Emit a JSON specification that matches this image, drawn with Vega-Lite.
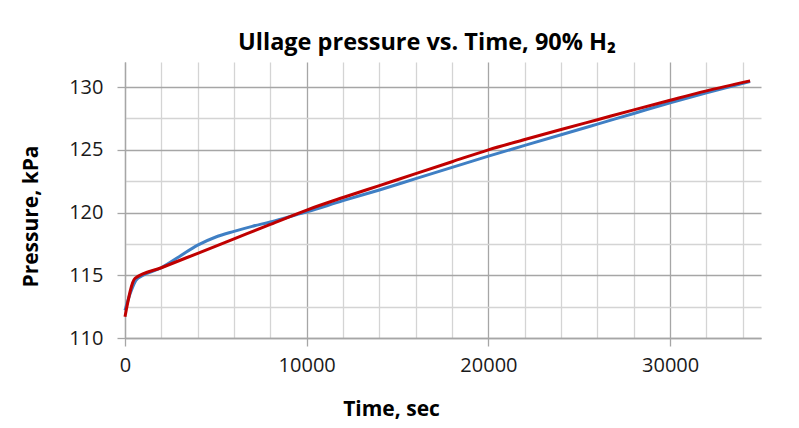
{
  "$schema": "https://vega.github.io/schema/vega-lite/v6.json",
  "width": 636,
  "height": 276,
  "autosize": {"type": "none"},
  "padding": {"left": 125, "top": 62, "right": 38, "bottom": 90},
  "background": "white",
  "config": {
    "view": {"stroke": null},
    "font": "Open Sans"
  },
  "title": {
    "text": "Ullage pressure vs. Time, 90% H₂",
    "font": "Open Sans",
    "fontSize": 23.5,
    "fontWeight": "bold",
    "color": "#000000",
    "anchor": "middle",
    "dx": -16,
    "offset": 8
  },
  "data": {
    "values": [
      {"series": "blue", "t": 0, "p": 112.2},
      {"series": "blue", "t": 300, "p": 113.6},
      {"series": "blue", "t": 600, "p": 114.6},
      {"series": "blue", "t": 1000, "p": 115.0},
      {"series": "blue", "t": 2000, "p": 115.6},
      {"series": "blue", "t": 3000, "p": 116.5},
      {"series": "blue", "t": 4000, "p": 117.4},
      {"series": "blue", "t": 5000, "p": 118.05},
      {"series": "blue", "t": 6000, "p": 118.5},
      {"series": "blue", "t": 7000, "p": 118.9},
      {"series": "blue", "t": 8000, "p": 119.25},
      {"series": "blue", "t": 9000, "p": 119.65},
      {"series": "blue", "t": 10000, "p": 120.05},
      {"series": "blue", "t": 12000, "p": 120.95},
      {"series": "blue", "t": 14000, "p": 121.8},
      {"series": "blue", "t": 16000, "p": 122.7},
      {"series": "blue", "t": 18000, "p": 123.6},
      {"series": "blue", "t": 20000, "p": 124.5},
      {"series": "blue", "t": 22000, "p": 125.35},
      {"series": "blue", "t": 24000, "p": 126.2},
      {"series": "blue", "t": 26000, "p": 127.05},
      {"series": "blue", "t": 28000, "p": 127.9},
      {"series": "blue", "t": 30000, "p": 128.75},
      {"series": "blue", "t": 32000, "p": 129.55},
      {"series": "blue", "t": 34400, "p": 130.45},
      {"series": "red", "t": 0, "p": 111.7},
      {"series": "red", "t": 550, "p": 114.75},
      {"series": "red", "t": 2000, "p": 115.6},
      {"series": "red", "t": 4000, "p": 116.75},
      {"series": "red", "t": 6000, "p": 117.9},
      {"series": "red", "t": 8000, "p": 119.05},
      {"series": "red", "t": 10000, "p": 120.2},
      {"series": "red", "t": 12000, "p": 121.2},
      {"series": "red", "t": 14000, "p": 122.15},
      {"series": "red", "t": 16000, "p": 123.1},
      {"series": "red", "t": 18000, "p": 124.05},
      {"series": "red", "t": 20000, "p": 125.0},
      {"series": "red", "t": 22000, "p": 125.82},
      {"series": "red", "t": 24000, "p": 126.62},
      {"series": "red", "t": 26000, "p": 127.4},
      {"series": "red", "t": 28000, "p": 128.18},
      {"series": "red", "t": 30000, "p": 128.95},
      {"series": "red", "t": 32000, "p": 129.7},
      {"series": "red", "t": 34400, "p": 130.5}
    ]
  },
  "mark": {"type": "line", "strokeWidth": 3, "interpolate": "monotone"},
  "encoding": {
    "x": {
      "field": "t",
      "type": "quantitative",
      "scale": {"domain": [0, 35000], "nice": false, "zero": false},
      "axis": {
        "title": "Time, sec",
        "titleFont": "Open Sans",
        "titleFontSize": 21,
        "titleFontWeight": "bold",
        "titleColor": "#000000",
        "titleX": 266,
        "titleY": 71,
        "titleAlign": "center",
        "titleBaseline": "middle",
        "values": [0, 2000, 4000, 6000, 8000, 10000, 12000, 14000, 16000, 18000, 20000, 22000, 24000, 26000, 28000, 30000, 32000, 34000],
        "labelExpr": "datum.value % 10000 === 0 ? datum.value : ''",
        "labelFont": "Open Sans",
        "labelFontSize": 20,
        "labelColor": "#1a1a1a",
        "labelPadding": 9,
        "labelFlush": false,
        "labelOverlap": false,
        "grid": true,
        "gridColor": {"condition": {"test": "datum.value % 10000 === 0", "value": "#a6a6a6"}, "value": "#d4d4d4"},
        "gridWidth": 1.3,
        "ticks": true,
        "tickColor": {"condition": {"test": "datum.value % 10000 === 0", "value": "#a6a6a6"}, "value": "rgba(0,0,0,0)"},
        "tickSize": 8,
        "tickWidth": 1.3,
        "domain": true,
        "domainColor": "#a6a6a6",
        "domainWidth": 1.3
      }
    },
    "y": {
      "field": "p",
      "type": "quantitative",
      "scale": {"domain": [110, 132], "nice": false, "zero": false},
      "axis": {
        "title": "Pressure, kPa",
        "titleFont": "Open Sans",
        "titleFontSize": 21,
        "titleFontWeight": "bold",
        "titleColor": "#000000",
        "titleX": -94,
        "titleY": 154,
        "titleAlign": "center",
        "titleBaseline": "middle",
        "titleAngle": -90,
        "values": [110, 112.5, 115, 117.5, 120, 122.5, 125, 127.5, 130],
        "labelExpr": "datum.value % 5 === 0 ? datum.value : ''",
        "labelFont": "Open Sans",
        "labelFontSize": 20,
        "labelColor": "#1a1a1a",
        "labelPadding": 14,
        "labelOverlap": false,
        "labelFlush": false,
        "grid": true,
        "gridColor": {"condition": {"test": "datum.value % 5 === 0", "value": "#a6a6a6"}, "value": "#d4d4d4"},
        "gridWidth": 1.3,
        "ticks": true,
        "tickColor": {"condition": {"test": "datum.value % 5 === 0", "value": "#a6a6a6"}, "value": "rgba(0,0,0,0)"},
        "tickSize": 8,
        "tickWidth": 1.3,
        "domain": true,
        "domainColor": "#a6a6a6",
        "domainWidth": 1.3
      }
    },
    "color": {
      "field": "series",
      "type": "nominal",
      "scale": {"domain": ["blue", "red"], "range": ["#3f7fc4", "#c00000"]},
      "legend": null
    },
    "order": {"field": "t", "type": "quantitative"}
  }
}
